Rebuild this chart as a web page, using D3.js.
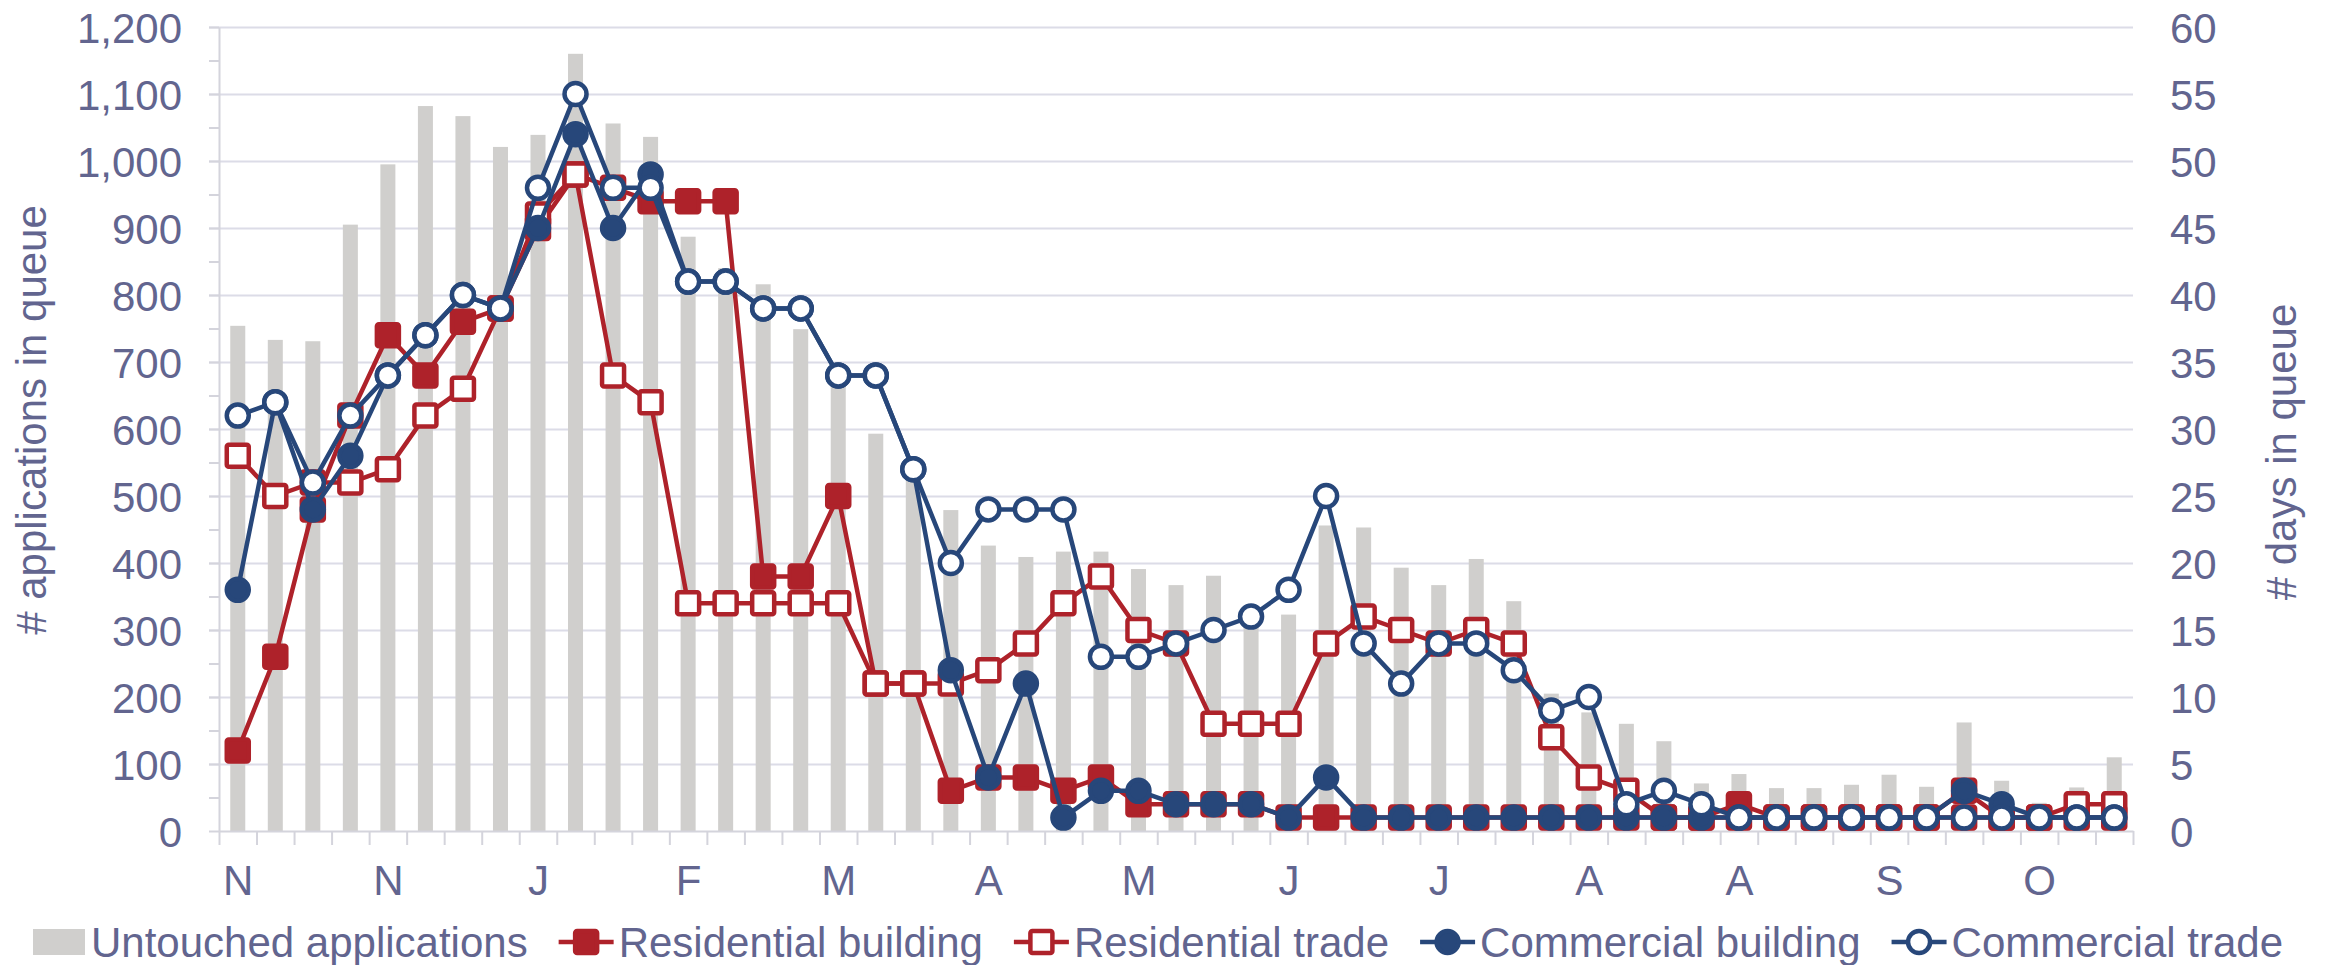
<!DOCTYPE html>
<html>
<head>
<meta charset="utf-8">
<script src="https://cdn.jsdelivr.net/npm/d3@7"></script>
<style>
  body { margin: 0; background: #fff; }
  svg text { font-family: "Liberation Sans", Arial, sans-serif; fill: #62658f; }
</style>
</head>
<body>
<div id="chart"></div>
<script>
// weekly snapshots, month initial on every 4th week
const weekLabels = [
  "N", "", "", "", "N", "", "", "", "J", "", "", "", "F", "", "", "", "M", "", "", "",
  "A", "", "", "", "M", "", "", "", "J", "", "", "", "J", "", "", "", "A", "", "", "",
  "A", "", "", "", "S", "", "", "", "O", "", ""
];

// # applications in queue (left axis)
const untouched = [
  754, 733, 731, 905, 995, 1082, 1067, 1021, 1039, 1160, 1056, 1036, 887, 840, 816, 749, 680,
  593, 530, 479, 426, 409, 417, 417, 391, 367, 381, 335, 323, 456, 453, 393, 367, 406, 343,
  205, 177, 160, 134, 71, 85, 64, 64, 69, 84, 66, 162, 75, 42, 65, 110
];

// # days in queue (right axis)
const resBuilding = [
  6, 13, 24, 31, 37, 34, 38, 39, 45, 49, 48, 47, 47, 47, 19, 19, 25, 11, 11, 3, 4, 4, 3, 4, 2,
  2, 2, 2, 1, 1, 1, 1, 1, 1, 1, 1, 1, 1, 1, 1, 2, 1, 1, 1, 1, 1, 3, 1, 1, 1, 1
];
const resTrade = [
  28, 25, 26, 26, 27, 31, 33, 39, 46, 49, 34, 32, 17, 17, 17, 17, 17, 11, 11, 11, 12, 14, 17,
  19, 15, 14, 8, 8, 8, 14, 16, 15, 14, 15, 14, 7, 4, 3, 1, 1, 1, 1, 1, 1, 1, 1, 1, 1, 1, 2, 2
];
const comBuilding = [
  18, 32, 24, 28, 34, 37, 40, 39, 45, 52, 45, 49, 41, 41, 39, 39, 34, 34, 27, 12, 4, 11, 1, 3,
  3, 2, 2, 2, 1, 4, 1, 1, 1, 1, 1, 1, 1, 1, 1, 1, 1, 1, 1, 1, 1, 1, 3, 2, 1, 1, 1
];
const comTrade = [
  31, 32, 26, 31, 34, 37, 40, 39, 48, 55, 48, 48, 41, 41, 39, 39, 34, 34, 27, 20, 24, 24, 24,
  13, 13, 14, 15, 16, 18, 25, 14, 11, 14, 14, 12, 9, 10, 2, 3, 2, 1, 1, 1, 1, 1, 1, 1, 1, 1, 1, 1
];

const leftTicks = d3.range(0, 1201, 100);
const rightTicks = d3.range(0, 61, 5);

const width = 2328;
const height = 965;
const margin = { top: 27, right: 195, bottom: 134, left: 219 };
const plotRight = width - margin.right;
const plotBottom = height - margin.bottom;
const fontSize = 42;

const barColor = "#d0cfcd";
const red = "#ae222a";
const blue = "#27477a";
const textColor = "#62658f";
const gridColor = "#dcdce7";

const series = [
  { name: "Residential building", values: resBuilding, color: red, shape: "square", filled: true },
  { name: "Residential trade", values: resTrade, color: red, shape: "square", filled: false },
  { name: "Commercial building", values: comBuilding, color: blue, shape: "circle", filled: true },
  { name: "Commercial trade", values: comTrade, color: blue, shape: "circle", filled: false },
];

const svg = d3
  .select("#chart")
  .append("svg")
  .attr("width", width)
  .attr("height", height);

const idx = d3.range(weekLabels.length);

const xBand = d3
  .scaleBand()
  .domain(idx)
  .range([margin.left, plotRight])
  .paddingInner(0.6)
  .paddingOuter(0.3);

const xPoint = d3
  .scalePoint()
  .domain(idx)
  .range([margin.left, plotRight])
  .padding(0.5);

// boundaries between weeks, for the tick marks
const xEdge = d3
  .scaleLinear()
  .domain([0, weekLabels.length])
  .range([margin.left, plotRight]);

const yLeft = d3.scaleLinear().domain([0, 1200]).range([plotBottom, margin.top]);
const yRight = d3.scaleLinear().domain([0, 60]).range([plotBottom, margin.top]);

// gridlines
svg
  .append("g")
  .attr("transform", `translate(${margin.left - 10}, 0)`)
  .call(
    d3.axisLeft(yLeft)
      .tickValues(leftTicks.slice(1))
      .tickSize(-(plotRight - margin.left + 10))
      .tickFormat("")
  )
  .call((g) => g.select(".domain").remove())
  .call((g) => g.selectAll("line").attr("stroke", gridColor).attr("stroke-width", 2));

// bars
svg
  .append("g")
  .selectAll("rect")
  .data(untouched)
  .enter()
  .append("rect")
  .attr("x", (d, i) => xBand(i))
  .attr("y", (d) => yLeft(d))
  .attr("width", xBand.bandwidth())
  .attr("height", (d) => plotBottom - yLeft(d))
  .attr("fill", barColor);

// left axis: line + minor ticks every 50
svg
  .append("g")
  .attr("transform", `translate(${margin.left}, 0)`)
  .call(d3.axisLeft(yLeft).tickValues(d3.range(0, 1201, 50)).tickSize(10).tickSizeOuter(0).tickFormat(""))
  .call((g) => g.selectAll("line, path").attr("stroke", "#d4d4dc").attr("stroke-width", 2));

// left labels
svg
  .append("g")
  .attr("transform", `translate(${margin.left}, 0)`)
  .call(d3.axisLeft(yLeft).tickValues(leftTicks).tickSize(0).tickPadding(37).tickFormat(d3.format(",")))
  .call((g) => g.select(".domain").remove())
  .call((g) => g.selectAll("text").attr("font-size", fontSize).attr("fill", textColor).attr("dy", "0.36em"));

// right labels
svg
  .append("g")
  .attr("transform", `translate(${plotRight}, 0)`)
  .call(d3.axisRight(yRight).tickValues(rightTicks).tickSize(0).tickPadding(37))
  .call((g) => g.select(".domain").remove())
  .call((g) => g.selectAll("text").attr("font-size", fontSize).attr("fill", textColor).attr("dy", "0.36em"));

// bottom axis line with a tick between every week
svg
  .append("g")
  .attr("transform", `translate(0, ${plotBottom})`)
  .call(d3.axisBottom(xEdge).tickValues(d3.range(weekLabels.length + 1)).tickSize(14).tickSizeOuter(0).tickFormat(""))
  .call((g) => g.selectAll("line, path").attr("stroke", "#d4d4dc").attr("stroke-width", 2));

// month labels
svg
  .append("g")
  .attr("transform", `translate(0, ${plotBottom})`)
  .call(
    d3.axisBottom(xPoint)
      .tickValues(idx.filter((i) => weekLabels[i] !== ""))
      .tickSize(0)
      .tickPadding(34)
      .tickFormat((i) => weekLabels[i])
  )
  .call((g) => g.select(".domain").remove())
  .call((g) => g.selectAll("text").attr("font-size", fontSize).attr("fill", textColor));

// axis titles
svg
  .append("text")
  .attr("transform", "translate(46, 420) rotate(-90)")
  .attr("text-anchor", "middle")
  .attr("font-size", fontSize)
  .text("# applications in queue");

svg
  .append("text")
  .attr("transform", "translate(2296, 452) rotate(-90)")
  .attr("text-anchor", "middle")
  .attr("font-size", fontSize)
  .text("# days in queue");

function drawMarker(sel, s) {
  if (s.shape === "square") {
    sel.append("rect")
      .attr("x", -11)
      .attr("y", -11)
      .attr("width", 22)
      .attr("height", 22)
      .attr("rx", 2)
      .attr("fill", s.filled ? s.color : "#fff")
      .attr("stroke", s.color)
      .attr("stroke-width", 4.5);
  } else {
    sel.append("circle")
      .attr("r", 11)
      .attr("fill", s.filled ? s.color : "#fff")
      .attr("stroke", s.color)
      .attr("stroke-width", 4.5);
  }
}

// lines + markers, one series after the other
const line = d3.line().x((d, i) => xPoint(i)).y((d) => yRight(d));

series.forEach((s) => {
  const g = svg.append("g");
  g.append("path")
    .datum(s.values)
    .attr("d", line)
    .attr("fill", "none")
    .attr("stroke", s.color)
    .attr("stroke-width", 4.5)
    .attr("stroke-linejoin", "round");
  g.selectAll("g.pt")
    .data(s.values)
    .enter()
    .append("g")
    .attr("class", "pt")
    .attr("transform", (d, i) => `translate(${xPoint(i)}, ${yRight(d)})`)
    .each(function () {
      drawMarker(d3.select(this), s);
    });
});

// legend
const legendY = 942;
const legend = svg.append("g").attr("transform", `translate(33, ${legendY})`);
let lx = 0;

legend.append("rect")
  .attr("x", lx)
  .attr("y", -13)
  .attr("width", 52)
  .attr("height", 26)
  .attr("fill", barColor);
lx += 58;
let t = legend.append("text")
  .attr("x", lx)
  .attr("dy", "0.36em")
  .attr("font-size", fontSize)
  .text("Untouched applications");
lx += t.node().getComputedTextLength() + 31;

series.forEach((s) => {
  const item = legend.append("g").attr("transform", `translate(${lx}, 0)`);
  item.append("line")
    .attr("x1", 0)
    .attr("x2", 55)
    .attr("stroke", s.color)
    .attr("stroke-width", 4.5);
  drawMarker(item.append("g").attr("transform", "translate(27.5, 0)"), s);
  const txt = item.append("text")
    .attr("x", 60)
    .attr("dy", "0.36em")
    .attr("font-size", fontSize)
    .text(s.name);
  lx += 60 + txt.node().getComputedTextLength() + 31;
});
</script>
</body>
</html>
